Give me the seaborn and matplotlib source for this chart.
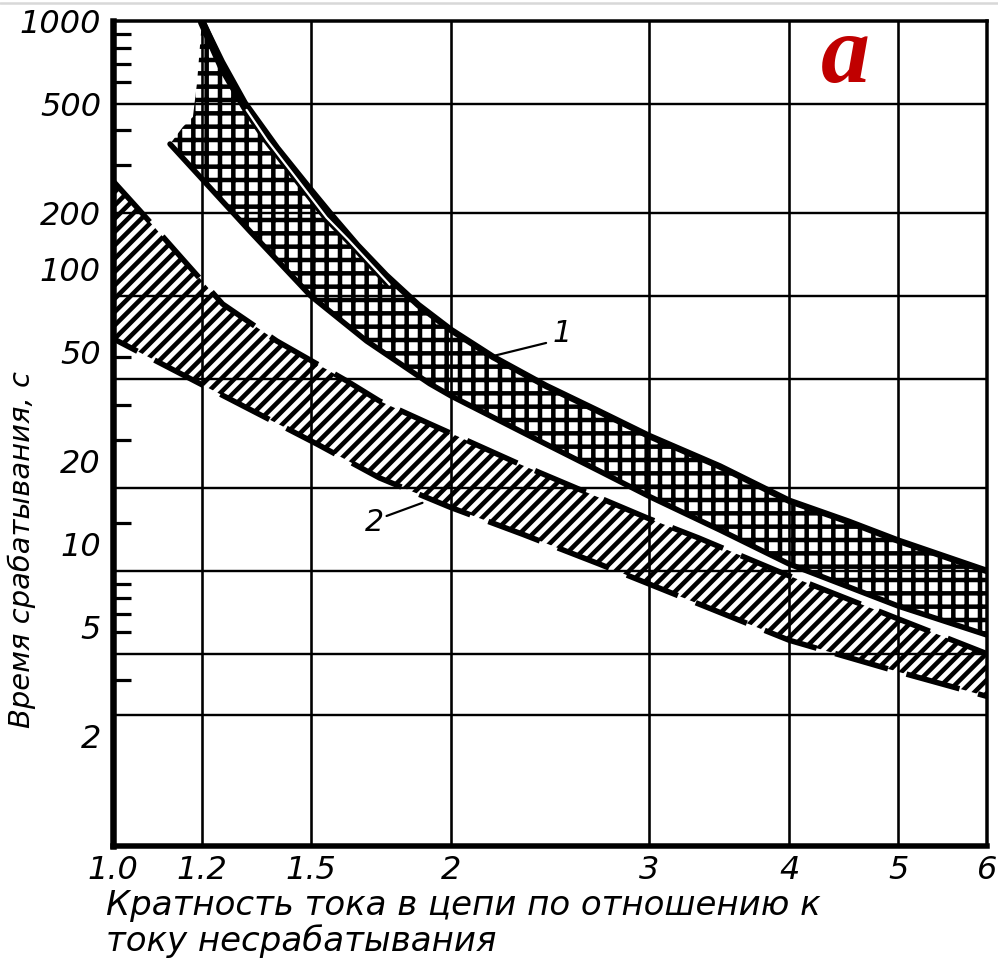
import numpy as np
import matplotlib
matplotlib.use("Agg")
import matplotlib.pyplot as plt
import seaborn as sns
from matplotlib.transforms import ScaledTranslation
from matplotlib.lines import Line2D

# ---------------- data ----------------
x_ticks = [1.0, 1.2, 1.5, 2, 3, 4, 5, 6]
x_tick_labels = ["1.0", "1.2", "1.5", "2", "3", "4", "5", "6"]
y_ticks = [2, 5, 10, 20, 50, 100, 200, 500, 1000]
y_tick_labels = ["2", "5", "10", "20", "50", "100", "200", "500", "1000"]
y_minor_ticks = [2, 4, 6, 7, 8, 9, 15, 30, 40, 60, 300, 400, 600, 700, 800, 900]
grid_x = [1.2, 1.5, 2, 3, 4, 5]
grid_y = [3, 5, 10, 20, 50, 100, 200, 500]

# band 1 (cross-hatched)
band1_upper_x = [1.20, 1.25, 1.31, 1.40, 1.50, 1.56, 1.65, 1.75, 1.87, 2.0, 2.18, 2.43, 2.71, 3.0, 3.47, 4.0, 4.52, 5.0, 6.0]
band1_upper_y = [1000, 710, 503, 345, 243, 200, 153, 119, 92.7, 75.2, 60.0, 47.1, 38, 31, 24, 18, 15.1, 12.9, 10]
band1_lower_x = [1.124, 1.324, 1.5, 1.682, 1.914, 2.0, 2.349, 2.71, 3.0, 3.47, 4.0, 5.0, 6.0]
band1_lower_y = [357, 172, 100, 68.6, 48, 43.3, 31, 23.1, 18.7, 14.1, 10.6, 7.46, 5.85]
band1_edge_x = [1.154, 1.178, 1.188]
band1_edge_y = [412, 448, 596]
band1_inner_x = [1.20, 1.25, 1.315, 1.371, 1.549, 1.62, 1.763]
band1_inner_y = [990, 680, 475, 369, 193, 160, 110]

# band 2 (dashed, diagonal hatch)
band2_upper_x = [1.0, 1.057, 1.152, 1.252, 1.399, 1.615, 1.727, 1.914, 2.30, 3.0, 3.32, 4.0, 5.0, 6.0]
band2_upper_y = [262, 204, 137, 93.5, 68.6, 49.1, 41.5, 34.3, 24.5, 15.5, 13.2, 9.6, 6.7, 5.0]
band2_lower_x = [1.0, 1.195, 1.518, 1.727, 2.0, 2.316, 2.71, 3.32, 4.0, 5.0, 6.0]
band2_lower_y = [70, 48, 29, 21.8, 17, 13.6, 10.6, 7.6, 5.6, 4.3, 3.5]

# curve labels
label1_text, label1_x, label1_y = "1", 2.51, 72.8
leader1_x, leader1_y = [2.18, 2.43], [60.5, 67.5]
label2_text, label2_x, label2_y = "2", 1.71, 15.0
leader2_x, leader2_y = [1.752, 1.886], [15.85, 17.7]

ylabel_text = "Время срабатывания, с"
xlabel_line1 = "Кратность тока в цепи по отношению к"
xlabel_line2 = "току несрабатывания"
panel_letter = "a"

# ---------------- figure ----------------
DPI = 80
def px(v):  # pixels -> points
    return v * 72.0 / DPI

sns.set_style("white")
plt.rcParams["font.family"] = ["DejaVu Sans"]
plt.rcParams["text.color"] = "black"
plt.rcParams["xtick.color"] = "black"
plt.rcParams["ytick.color"] = "black"
plt.rcParams["xtick.labelcolor"] = "black"
plt.rcParams["ytick.labelcolor"] = "black"

fig = plt.figure(figsize=(998 / DPI, 960 / DPI), dpi=DPI)
fig.patch.set_facecolor("white")
ax = fig.add_axes([113 / 998, 1 - 846 / 960, (987 - 113) / 998, (846 - 21) / 960])
ax.set_xscale("log")
ax.set_yscale("log")
ax.set_xlim(1.0, 6.0)
ax.set_ylim(1.0, 1000)
ax.set_facecolor("white")

# grid lines
for gx in grid_x:
    ax.axvline(gx, color="black", lw=px(2.6), zorder=1)
for gy in grid_y:
    ax.axhline(gy, color="black", lw=px(2.4), zorder=1)

# hatched bands
def hatched(xs, ys, hatch, hlw):
    with plt.rc_context({"hatch.linewidth": hlw}):
        polys = ax.fill(xs, ys, facecolor="none", edgecolor="black",
                        hatch=hatch, linewidth=0, zorder=2)
    for p in polys:
        if hasattr(p, "set_hatch_linewidth"):
            p.set_hatch_linewidth(hlw)

b1x = list(band1_upper_x) + list(band1_lower_x[::-1]) + list(band1_edge_x)
b1y = list(band1_upper_y) + list(band1_lower_y[::-1]) + list(band1_edge_y)
hatched(b1x, b1y, "+", px(4.5))

b2x = list(band2_upper_x) + list(band2_lower_x[::-1])
b2y = list(band2_upper_y) + list(band2_lower_y[::-1])
hatched(b2x, b2y, "//", px(4.6))

# boundary curves
sns.lineplot(x=band1_upper_x, y=band1_upper_y, ax=ax, color="black",
             lw=px(6.5), sort=False, estimator=None, zorder=4)
sns.lineplot(x=band1_lower_x, y=band1_lower_y, ax=ax, color="black",
             lw=px(5.5), sort=False, estimator=None, zorder=4)
sns.lineplot(x=band1_inner_x, y=band1_inner_y, ax=ax, color="black",
             lw=px(8), sort=False, estimator=None, zorder=4)
sns.lineplot(x=band1_inner_x[2:], y=band1_inner_y[2:], ax=ax, color="white",
             lw=px(2.2), sort=False, estimator=None, zorder=5)
sns.lineplot(x=band2_upper_x, y=band2_upper_y, ax=ax, color="black",
             lw=px(5.5), sort=False, estimator=None, zorder=4,
             linestyle=(0, (10, 3.5)))
sns.lineplot(x=band2_lower_x, y=band2_lower_y, ax=ax, color="black",
             lw=px(5.5), sort=False, estimator=None, zorder=4,
             linestyle=(5, (10, 3.5)))

# curve labels with leaders
sns.lineplot(x=leader1_x, y=leader1_y, ax=ax, color="black", lw=px(2.2),
             sort=False, estimator=None, zorder=5)
sns.lineplot(x=leader2_x, y=leader2_y, ax=ax, color="black", lw=px(2.2),
             sort=False, estimator=None, zorder=5)
ax.text(label1_x, label1_y, label1_text, style="italic", fontsize=px(30),
        ha="center", va="center", zorder=6, color="black")
ax.text(label2_x, label2_y, label2_text, style="italic", fontsize=px(30),
        ha="center", va="center", zorder=6, color="black")

# ticks
ax.set_xticks(x_ticks)
ax.set_xticklabels(x_tick_labels)
ax.xaxis.set_minor_locator(matplotlib.ticker.NullLocator())
ax.set_yticks(y_ticks)
ax.set_yticklabels(y_tick_labels)
ax.set_yticks(y_minor_ticks, minor=True)
ax.yaxis.set_minor_formatter(matplotlib.ticker.NullFormatter())
ax.tick_params(axis="x", which="major", length=0, pad=px(9),
               labelsize=px(32), labelcolor="black")
ax.tick_params(axis="y", which="major", length=0, pad=px(12),
               labelsize=px(32), labelcolor="black")
ax.tick_params(axis="y", which="minor", direction="in", length=px(18),
               width=px(3.2), left=True, color="black")
for lab in ax.get_xticklabels() + ax.get_yticklabels():
    lab.set_fontstyle("italic")

shift = ScaledTranslation(0, 27 / DPI, fig.dpi_scale_trans)
for tick in ax.yaxis.get_major_ticks():
    if tick.get_loc() <= 100:
        tick.label1.set_transform(tick.label1.get_transform() + shift)

# spines
for side, w in [("left", 6.5), ("bottom", 5.5), ("top", 3.5), ("right", 3.5)]:
    ax.spines[side].set_visible(True)
    ax.spines[side].set_color("black")
    ax.spines[side].set_linewidth(px(w))
    ax.spines[side].set_zorder(7)

ax.set_xlabel("")
ax.set_ylabel("")

# axis titles
fig.text(22 / 998, 1 - 550 / 960, ylabel_text, rotation=90, style="italic",
         fontsize=px(29), ha="center", va="center", color="black")
fig.text(106 / 998, 1 - 905 / 960, xlabel_line1, style="italic",
         fontsize=px(34), ha="left", va="center", color="black")
fig.text(106 / 998, 1 - 941 / 960, xlabel_line2, style="italic",
         fontsize=px(34), ha="left", va="center", color="black")

# panel letter
fig.text(845 / 998, 1 - 82 / 960, panel_letter, color="#c00000",
         family=["Liberation Serif", "DejaVu Serif"], weight="bold",
         style="italic", fontsize=px(98), ha="center", va="baseline")

# thin frame line at top of screenshot
fig.add_artist(Line2D([0, 1], [1 - 3 / 960, 1 - 3 / 960],
                      transform=fig.transFigure, color="#d8d8d8", lw=px(2.5)))

fig.savefig("out.png", dpi=DPI, facecolor="white")
